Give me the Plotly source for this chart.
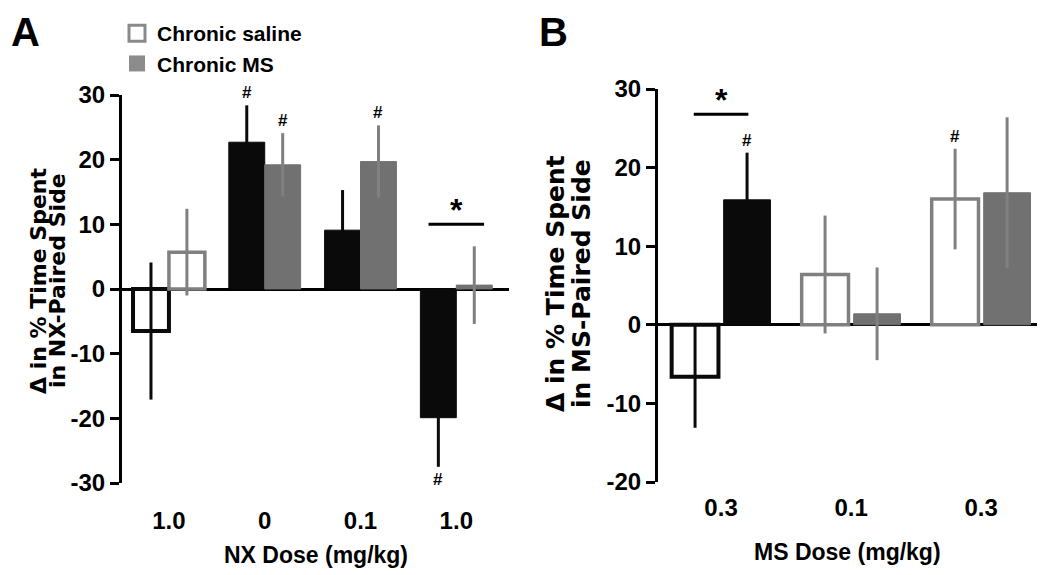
import plotly.graph_objects as go

# ---------------- data ----------------
# Panel A: NX dose
cats_A = ["1.0", "0", "0.1", "1.0"]
left_A = [-6.5, 22.7, 9.1, -19.9]
left_A_sem = [10.6, 5.7, 6.2, 7.6]
left_A_style = ["open_black", "black", "black", "black"]
right_A = [5.7, 19.2, 19.7, 0.6]
right_A_sem = [6.7, 4.9, 5.6, 6.0]
right_A_style = ["open_gray", "gray", "gray", "gray"]
hash_A = [("left", 1, "up"), ("right", 1, "up"), ("right", 2, "up"), ("left", 3, "down")]
star_A = (3, 10.0)
yticks_A = [-30, -20, -10, 0, 10, 20, 30]
ytitle_A = ["\u0394 in % Time Spent", "in NX-Paired Side"]
xtitle_A = "NX Dose (mg/kg)"

# Panel B: MS dose
cats_B = ["0.3", "0.1", "0.3"]
left_B = [-6.6, 6.4, 16.0]
left_B_sem = [6.5, 7.5, 6.4]
left_B_style = ["open_black", "open_gray", "open_gray"]
right_B = [15.9, 1.4, 16.8]
right_B_sem = [6.0, 5.9, 9.6]
right_B_style = ["black", "gray", "gray"]
hash_B = [("right", 0, "up"), ("left", 2, "up")]
star_B = (0, 26.8)
yticks_B = [-20, -10, 0, 10, 20, 30]
ytitle_B = ["\u0394 in % Time Spent", "in MS-Paired Side"]
xtitle_B = "MS Dose (mg/kg)"

legend_names = ["Chronic saline", "Chronic MS"]
panel_labels = ["A", "B"]

# ---------------- styling ----------------
FONT = "Liberation Sans, Arial, sans-serif"
BLACK = "#0a0a0a"
GRAY = "#717171"
GRAY_LINE = "#808080"
STYLES = {
    "open_black": dict(fill="white", line=BLACK, lw=4, err=BLACK),
    "open_gray": dict(fill="white", line=GRAY_LINE, lw=3.5, err=GRAY_LINE),
    "black": dict(fill=BLACK, line=BLACK, lw=1, err=BLACK),
    "gray": dict(fill=GRAY, line=GRAY, lw=1, err=GRAY_LINE),
}

W, H = 1050, 575
OFF = 8  # page body offset compensation


def px_x(p):
    return (p - OFF) / W


def px_y(p):
    return 1 - (p - OFF) / H


fig = go.Figure()


def add_panel(xa, ya, left, lsem, lsty, right, rsem, rsty, width, loff, roff):
    for vals, sems, stys, off in ((left, lsem, lsty, loff), (right, rsem, rsty, roff)):
        for i, (v, s, st) in enumerate(zip(vals, sems, stys)):
            sd = STYLES[st]
            fig.add_trace(go.Bar(
                x=[i], y=[v], width=width, offset=off,
                marker=dict(color=sd["fill"], line=dict(color=sd["line"], width=sd["lw"])),
                error_y=dict(type="data", array=[s], color=sd["err"], thickness=3, width=0),
                xaxis=xa, yaxis=ya, showlegend=False, hoverinfo="skip",
            ))


wA = 0.375
add_panel("x", "y", left_A, left_A_sem, left_A_style, right_A, right_A_sem, right_A_style, wA, -wA, 0.0)
wB = 0.36
add_panel("x2", "y2", left_B, left_B_sem, left_B_style, right_B, right_B_sem, right_B_style, wB, -wB - 0.02, 0.02)

# legend entries
fig.add_trace(go.Scatter(x=[None], y=[None], mode="markers", name=legend_names[0],
                         marker=dict(symbol="square", size=17, color="white",
                                     line=dict(color="#8a8a8a", width=3)),
                         xaxis="x", yaxis="y"))
fig.add_trace(go.Scatter(x=[None], y=[None], mode="markers", name=legend_names[1],
                         marker=dict(symbol="square", size=20, color="#8c8c8c",
                                     line=dict(color="#8c8c8c", width=0)),
                         xaxis="x", yaxis="y"))

tickfont = dict(family=FONT, size=24, color="black", weight="bold")

ax_common = dict(showgrid=False, zeroline=False, showline=False, ticks="",
                 tickfont=tickfont, fixedrange=True, automargin=False)
yax_common = dict(showgrid=False, showline=True, linecolor="black", linewidth=3,
                  ticks="outside", ticklen=9, tickwidth=3, tickcolor="black",
                  zeroline=True, zerolinecolor="black", zerolinewidth=3,
                  tickfont=tickfont, fixedrange=True, automargin=False)

fig.update_layout(
    width=W, height=H, autosize=False,
    margin=dict(l=0, r=0, t=0, b=0, pad=0, autoexpand=False),
    paper_bgcolor="white", plot_bgcolor="white",
    barmode="overlay",
    font=dict(family=FONT, color="black"),
    xaxis=dict(domain=[px_x(122), px_x(509)], range=[-0.49, 3.55], anchor="y",
               tickvals=list(range(len(cats_A))), ticktext=cats_A, ticklabelstandoff=21, **ax_common),
    yaxis=dict(domain=[px_y(483), px_y(95)], range=[-30, 30], anchor="x",
               tickvals=yticks_A, ticktext=[str(t) for t in yticks_A], **yax_common),
    xaxis2=dict(domain=[px_x(658), px_x(1037)], range=[-0.485, 2.43], anchor="y2",
                tickvals=list(range(len(cats_B))), ticktext=cats_B, ticklabelstandoff=9, **ax_common),
    yaxis2=dict(domain=[px_y(482), px_y(89)], range=[-20, 30], anchor="x2",
                tickvals=yticks_B, ticktext=[str(t) for t in yticks_B], **yax_common),
    showlegend=True,
    legend=dict(x=px_x(117), y=px_y(13), xanchor="left", yanchor="top",
                font=dict(family=FONT, size=21, color="black", weight="bold"),
                bgcolor="rgba(0,0,0,0)", tracegroupgap=0, itemsizing="trace"),
)

ann = []
# panel letters
for lab, xl in zip(panel_labels, (9, 537)):
    ann.append(dict(text=lab, x=px_x(xl), y=px_y(32), xref="paper", yref="paper",
                    xanchor="left", yanchor="middle",
                    showarrow=False, font=dict(family=FONT, size=40, weight="bold")))
# y titles (one annotation per line)
for txt, xc in zip(ytitle_A, (38, 57)):
    ann.append(dict(text=txt, x=px_x(xc), y=px_y(281), xref="paper", yref="paper",
                    xanchor="center", yanchor="middle", textangle=-90, showarrow=False,
                    font=dict(family="DejaVu Sans", size=22, weight="bold")))
for txt, xc in zip(ytitle_B, (555, 581)):
    ann.append(dict(text=txt, x=px_x(xc), y=px_y(284), xref="paper", yref="paper",
                    xanchor="center", yanchor="middle", textangle=-90, showarrow=False,
                    font=dict(family="DejaVu Sans", size=25, weight="bold")))
# x titles
ann.append(dict(text=xtitle_A, x=0.5, y=px_y(555), xref="x domain", yref="paper",
                xanchor="center", yanchor="middle",
                showarrow=False, font=dict(family=FONT, size=23, weight="bold")))
ann.append(dict(text=xtitle_B, x=0.5, y=px_y(552), xref="x2 domain", yref="paper",
                xanchor="center", yanchor="middle",
                showarrow=False, font=dict(family=FONT, size=23, weight="bold")))


def hashes(hlist, xa, ya, left, lsem, right, rsem, width, loff, roff):
    for side, i, d in hlist:
        if side == "left":
            v, s, c = left[i], lsem[i], i + loff + width / 2
        else:
            v, s, c = right[i], rsem[i], i + roff + width / 2
        if d == "up":
            ann.append(dict(text="#", x=c, y=v + s, xref=xa, yref=ya, xanchor="center", yanchor="bottom", yshift=1,
                            showarrow=False, font=dict(family=FONT, size=17, weight="bold")))
        else:
            ann.append(dict(text="#", x=c, y=v - s, xref=xa, yref=ya, xanchor="center", yanchor="top", yshift=-1,
                            showarrow=False, font=dict(family=FONT, size=17, weight="bold")))


hashes(hash_A, "x", "y", left_A, left_A_sem, right_A, right_A_sem, wA, -wA, 0.0)
hashes(hash_B, "x2", "y2", left_B, left_B_sem, right_B, right_B_sem, wB, -wB - 0.02, 0.02)

shapes = []
for (g, yv), xa, ya, half in ((star_A, "x", "y", 0.29), (star_B, "x2", "y2", 0.21)):
    shapes.append(dict(type="line", x0=g - half, x1=g + half, y0=yv, y1=yv, xref=xa, yref=ya,
                       line=dict(color="black", width=3)))
    ann.append(dict(text="*", x=g, y=yv, xref=xa, yref=ya, xanchor="center", yanchor="bottom", yshift=-6,
                    showarrow=False, font=dict(family=FONT, size=32, weight="bold")))

fig.update_layout(annotations=ann, shapes=shapes)
fig.write_html("out.html")
